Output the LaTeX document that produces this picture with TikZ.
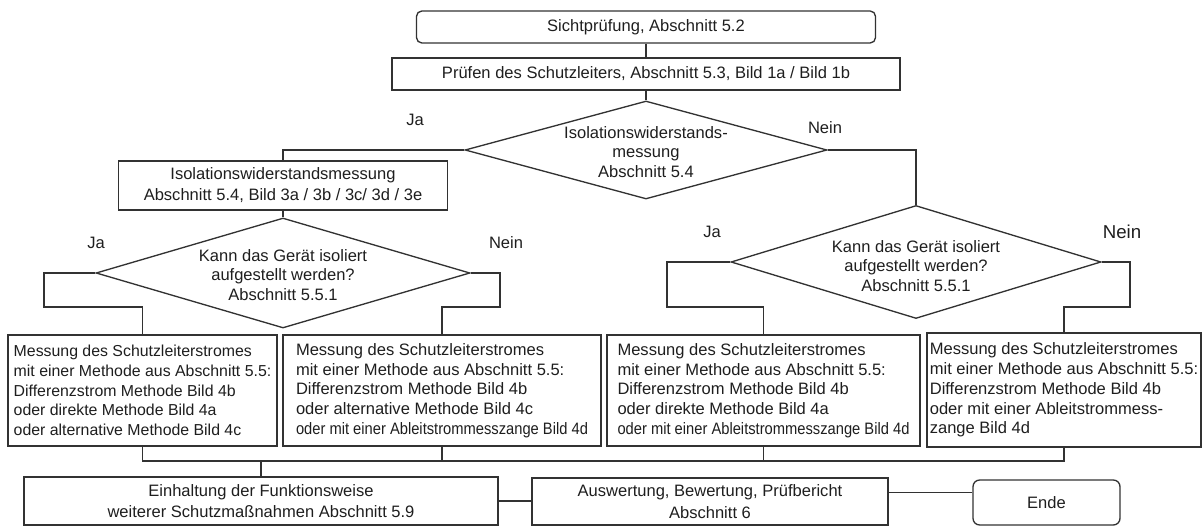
\documentclass[tikz,border=0pt]{standalone}
\usepackage{fontspec}
\usepackage{graphicx}
\setmainfont{Liberation Sans}
\usetikzlibrary{shapes.geometric}
\definecolor{ln}{RGB}{50,50,50}
\definecolor{txt}{RGB}{30,30,30}
\begin{document}
\begin{tikzpicture}[x=0.75pt,y=-0.75pt,
  every node/.style={font=\fontsize{12.4}{14.8}\selectfont, text=txt},
  sz/.style 2 args={minimum width=#1*0.75pt, minimum height=#2*0.75pt},
  box/.style={draw=ln, line width=1pt, inner sep=1pt, align=center},
  lbox/.style={box, align=left},
  dia/.style={draw=ln, line width=1pt, diamond, inner sep=0pt},
  conn/.style={draw=ln, line width=1pt},
  lab/.style={inner sep=0pt, align=center},
  big/.style={font=\fontsize{14}{16}\selectfont}]
\useasboundingbox (0,0) rectangle (1203,527);

\node[box, rounded corners=4pt, sz={459}{32}] (sicht) at (646,27) {Sichtprüfung, Abschnitt 5.2};
\node[box, sz={508}{32}] (pruef) at (646,74) {Prüfen des Schutzleiters, Abschnitt 5.3, Bild 1a / Bild 1b};

\node[dia, sz={362}{98}] (d1) at (646,150) {};
\node[lab] (d1t) at (646,152) {Isolationswiderstands-\\messung\\Abschnitt 5.4};

\node[box, sz={329}{49}, font=\fontsize{12.4}{15.8}\selectfont] (iso) at (283,185.5) {Isolationswiderstandsmessung\\Abschnitt 5.4, Bild 3a / 3b / 3c/ 3d / 3e};

\node[dia, sz={374}{110}] (d2L) at (283,273) {};
\node[lab] (d2Lt) at (283,275) {Kann das Gerät isoliert\\aufgestellt werden?\\Abschnitt 5.5.1};

\node[dia, sz={370}{113}] (d2R) at (916,262) {};
\node[lab] (d2Rt) at (916,266) {Kann das Gerät isoliert\\aufgestellt werden?\\Abschnitt 5.5.1};

\node[lbox, sz={269}{111}, font=\fontsize{11.9}{14.8}\selectfont] (m1) at (142.5,390.5) {Messung des Schutzleiterstromes\\mit einer Methode aus Abschnitt 5.5:\\Differenzstrom Methode Bild 4b\\oder direkte Methode Bild 4a\\oder alternative Methode Bild 4c};
\node[lbox, sz={318}{111}] (m2) at (442,390.5) {Messung des Schutzleiterstromes\\mit einer Methode aus Abschnitt 5.5:\\Differenzstrom Methode Bild 4b\\oder alternative Methode Bild 4c\\\scalebox{0.89}[1]{oder mit einer Ableitstrommesszange Bild 4d}};
\node[lbox, sz={313}{111}] (m3) at (763.5,390.5) {Messung des Schutzleiterstromes\\mit einer Methode aus Abschnitt 5.5:\\Differenzstrom Methode Bild 4b\\oder direkte Methode Bild 4a\\\scalebox{0.89}[1]{oder mit einer Ableitstrommesszange Bild 4d}};
\node[lbox, sz={274}{114}] (m4) at (1064,390) {Messung des Schutzleiterstromes\\mit einer Methode aus Abschnitt 5.5:\\Differenzstrom Methode Bild 4b\\oder mit einer Ableitstrommess-\\zange Bild 4d};

\node[box, sz={474}{48}, font=\fontsize{12.4}{16}\selectfont] (ein) at (261,501) {Einhaltung der Funktionsweise\\weiterer Schutzmaßnahmen Abschnitt 5.9};
\node[box, sz={356}{47}, font=\fontsize{12.4}{16}\selectfont] (ausw) at (710,501.5) {Auswertung, Bewertung, Prüfbericht\\Abschnitt 6};
\node[box, rounded corners=5pt, sz={147}{45}] (ende) at (1046.5,502.5) {Ende};

% labels
\node[lab] (ja1) at (415,120) {Ja};
\node[lab] (nein1) at (825,128) {Nein};
\node[lab] (ja2) at (96,243) {Ja};
\node[lab] (nein2) at (506,243) {Nein};
\node[lab] (ja3) at (712,232) {Ja};
\node[lab, big] (nein3) at (1122,232) {Nein};

% connectors
\draw[conn] (sicht) -- (pruef);
\draw[conn] (pruef) -- (d1.north);
\draw[conn] (d1.west) -| (iso.north);
\draw[conn] (d1.east) -| (d2R.north);
\draw[conn] (iso) -- (d2L.north);
\draw[conn] (d2L.west) -| (44,307) -| (m1.north);
\draw[conn] (d2L.east) -| (500,307) -| (m2.north);
\draw[conn] (d2R.west) -| (667,307) -| (m3.north);
\draw[conn] (d2R.east) -| (1130,307) -| (m4.north);
\coordinate (bus) at (0,461);
\draw[conn] (m1.south) -- (m1.south |- bus) -- (m4.south |- bus) -- (m4.south);
\draw[conn] (m2.south) -- (m2.south |- bus);
\draw[conn] (m3.south) -- (m3.south |- bus);
\draw[conn] (ein.north |- bus) -- (ein.north);
\draw[conn] (ein.east) -- (ein.east -| ausw.west);
\draw[conn] ([yshift=7.5pt]ende.west) -- ([yshift=7.5pt]ende.west -| ausw.east);
\end{tikzpicture}
\end{document}
